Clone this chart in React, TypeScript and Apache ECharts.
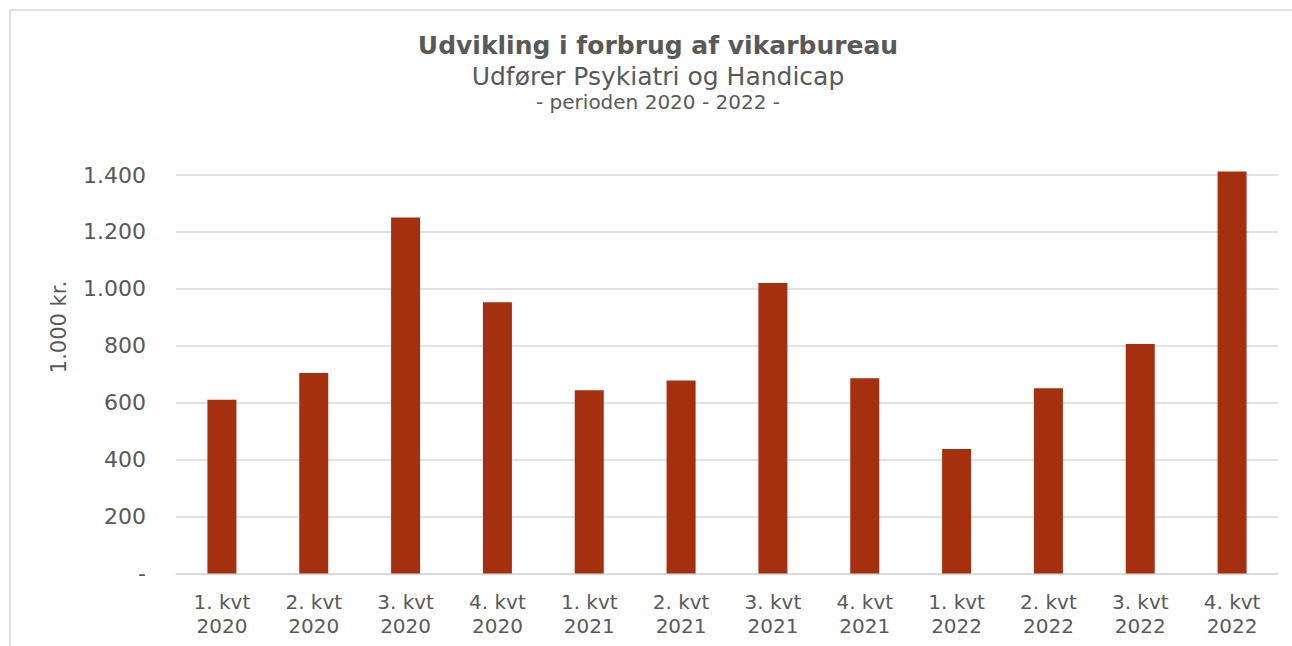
import React, { useEffect, useRef } from "react";
import * as echarts from "echarts";

const categories = [
  "1. kvt\n2020", "2. kvt\n2020", "3. kvt\n2020", "4. kvt\n2020",
  "1. kvt\n2021", "2. kvt\n2021", "3. kvt\n2021", "4. kvt\n2021",
  "1. kvt\n2022", "2. kvt\n2022", "3. kvt\n2022", "4. kvt\n2022",
];
const values = [610, 704, 1251, 953, 644, 678, 1021, 686, 437, 651, 806, 1412];
const titleText = "Udvikling i forbrug af vikarbureau";
const subtitleText = "Udfører Psykiatri og Handicap";
const periodText = "- perioden 2020 - 2022 -";
const yAxisName = "1.000 kr.";

const TEXT = "#595959";
const FONT = "Verdana, 'DejaVu Sans', sans-serif";

function fmt(v: number): string {
  if (v === 0) return "-";
  return String(v).replace(/\B(?=(\d{3})+(?!\d))/g, ".");
}

export default function App() {
  const ref = useRef<HTMLDivElement>(null);
  useEffect(() => {
    if (!ref.current) return;
    const chart = echarts.init(ref.current, undefined, { renderer: "svg" });
    chart.setOption({
      animation: false,
      backgroundColor: "#ffffff",
      grid: { left: 176, right: 14, top: 175, bottom: 72.5, containLabel: false },
      graphic: [
        {
          type: "rect",
          silent: true,
          shape: { x: 10, y: 10, width: 1400, height: 700 },
          style: { fill: "none", stroke: "#d9d9d9", lineWidth: 1.5 },
        },
        {
          type: "text",
          x: 658, y: 45,
          style: { text: titleText, fill: TEXT, font: `bold 25px ${FONT}`, textAlign: "center", textVerticalAlign: "middle" },
        },
        {
          type: "text",
          x: 658, y: 76,
          style: { text: subtitleText, fill: TEXT, font: `25px ${FONT}`, textAlign: "center", textVerticalAlign: "middle" },
        },
        {
          type: "text",
          x: 658, y: 102,
          style: { text: periodText, fill: TEXT, font: `20px ${FONT}`, textAlign: "center", textVerticalAlign: "middle" },
        },
        {
          type: "text",
          x: 59, y: 327,
          rotation: Math.PI / 2,
          style: { text: yAxisName, fill: TEXT, font: `21px ${FONT}`, textAlign: "center", textVerticalAlign: "middle" },
        },
      ],
      xAxis: {
        type: "category",
        data: categories,
        axisLine: { show: true, lineStyle: { color: "#d9d9d9", width: 1.5 } },
        axisTick: { show: false },
        axisLabel: { color: TEXT, fontFamily: FONT, fontSize: 20, lineHeight: 24, margin: 16, interval: 0 },
      },
      yAxis: {
        type: "value",
        min: 0,
        max: 1400,
        interval: 200,
        axisLine: { show: false },
        axisTick: { show: false },
        axisLabel: { color: TEXT, fontFamily: FONT, fontSize: 22, margin: 30, formatter: (v: number) => fmt(v) },
        splitLine: { show: true, lineStyle: { color: "#d9d9d9", width: 1.5 } },
      },
      series: [
        {
          type: "bar",
          data: values,
          barWidth: 29,
          clip: false,
          itemStyle: { color: "#A5300F" },
        },
      ],
    });
    return () => chart.dispose();
  }, []);
  return (
    <div
      ref={ref}
      style={{ position: "absolute", left: 0, top: 0, width: 1292, height: 646 }}
    />
  );
}
